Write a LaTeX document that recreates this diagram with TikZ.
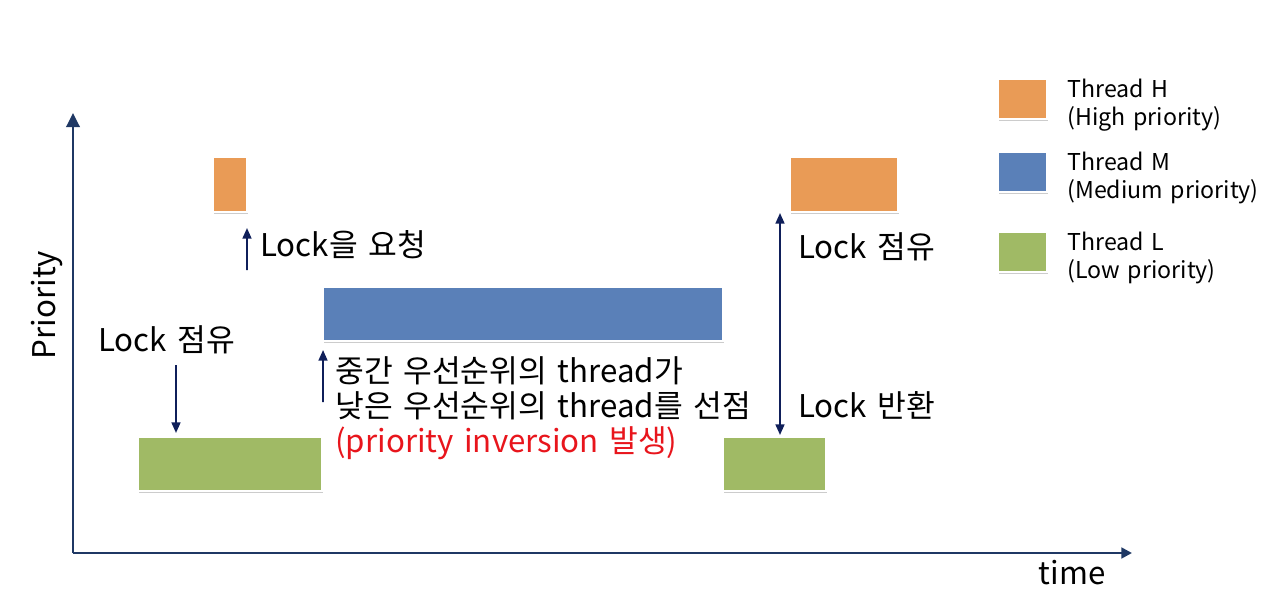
\documentclass[tikz,border=0pt]{standalone}
\usepackage{fontspec}
\setmainfont{Noto Sans CJK KR}[WordSpace=1.5]
\usepackage{xcolor}
\usetikzlibrary{arrows.meta, positioning, shadows}
\definecolor{axe}{HTML}{1F3864}
\definecolor{marine}{HTML}{0F1F5A}
\definecolor{orangeH}{HTML}{E99B56}
\definecolor{bleuM}{HTML}{5A80B8}
\definecolor{vertL}{HTML}{A0BA65}
\definecolor{rouge}{HTML}{E8151C}

\begin{document}
\begin{tikzpicture}[x=0.02cm, y=-0.02cm,
    thread/.style={draw=white, line width=0.8pt, inner sep=0pt, outer sep=0pt,
      drop shadow={shadow xshift=0.5pt, shadow yshift=-1.4pt, opacity=0.4}},
    fleche/.style={marine, line width=1.1pt, -{Triangle[length=6pt, width=5pt]}},
    lab/.style={font=\fontsize{17.8}{21}\selectfont, anchor=west, inner sep=0pt},
    leg/.style={font=\fontsize{13.2}{16.2}\selectfont, anchor=west, inner sep=0pt, align=left}]
    \useasboundingbox (0,0) rectangle (1280,611);
    % Axes
    \coordinate (o) at (73,553);
    \coordinate (ytop) at (73,113);
    \coordinate (xend) at (1132,553);
    \draw[axe, line width=1.7pt, -{Triangle[length=8pt, width=7.5pt]}] (o) -- (ytop);
    \draw[axe, line width=1.7pt, -{Triangle[length=6pt, width=6pt]}] (o) -- (xend);
    \node[lab, anchor=center, rotate=90] (prio) at (47,305) {Priority};
    \node[lab, anchor=center] (temps) at (1072,573) {time};
    % Threads
    \node[thread, fill=orangeH, minimum width=0.68cm, minimum height=1.1cm] (h1) at (230,184.5) {};
    \node[thread, fill=bleuM, minimum width=8cm, minimum height=1.08cm] (m1) at (523,314) {};
    \node[thread, fill=vertL, minimum width=3.68cm, minimum height=1.08cm] (l1) at (230,464) {};
    \node[thread, fill=orangeH, minimum width=2.16cm, minimum height=1.1cm] (h2) at (844,184.5) {};
    \node[thread, fill=vertL, minimum width=2.06cm, minimum height=1.08cm] (l2) at (774.5,464) {};
    % Evenements
    \node[lab] (req) at (260,245) {Lock을 요청};
    \coordinate (reqA) at (247,270);
    \draw[fleche, shorten >=0.32cm] (reqA) -- (h1.south east);
    \node[lab] (occ1) at (98,340) {Lock 점유};
    \coordinate (occA) at (176,365);
    \draw[fleche, shorten >=0.08cm] (occA) -- (occA |- l1.north);
    \node[lab] (inv1) at (335,371) {중간 우선순위의 thread가};
    \node[lab] (inv2) at (335,406) {낮은 우선순위의 thread를 선점};
    \node[lab, text=rouge] (inv3) at (335,443) {(priority inversion 발생)};
    \coordinate (invA) at (323,402);
    \draw[fleche, shorten >=0.18cm] (invA) -- (m1.south west);
    \coordinate (ret) at (780,0);
    \draw[fleche, {Triangle[length=6pt, width=5pt]}-{Triangle[length=6pt, width=5pt]}, shorten <=0.02cm, shorten >=0.04cm]
      (ret |- h2.south) -- (ret |- l2.north);
    \node[lab] (occ2) at (798,247) {Lock 점유};
    \node[lab] (rel) at (798,405) {Lock 반환};
    % Legende
    \foreach \n/\y/\c/\lab in {
      H/99/orangeH/{Thread H\\(High priority)},
      M/172/bleuM/{Thread M\\(Medium priority)},
      L/252/vertL/{Thread L\\(Low priority)}} {
      \node[thread, fill=\c, minimum width=0.98cm, minimum height=0.8cm] (box\n) at (1022.5,\y) {};
      \node[leg, right=0.4cm of box\n.east, yshift=-0.12cm] (txt\n) {\lab};
    }
\end{tikzpicture}
\end{document}
